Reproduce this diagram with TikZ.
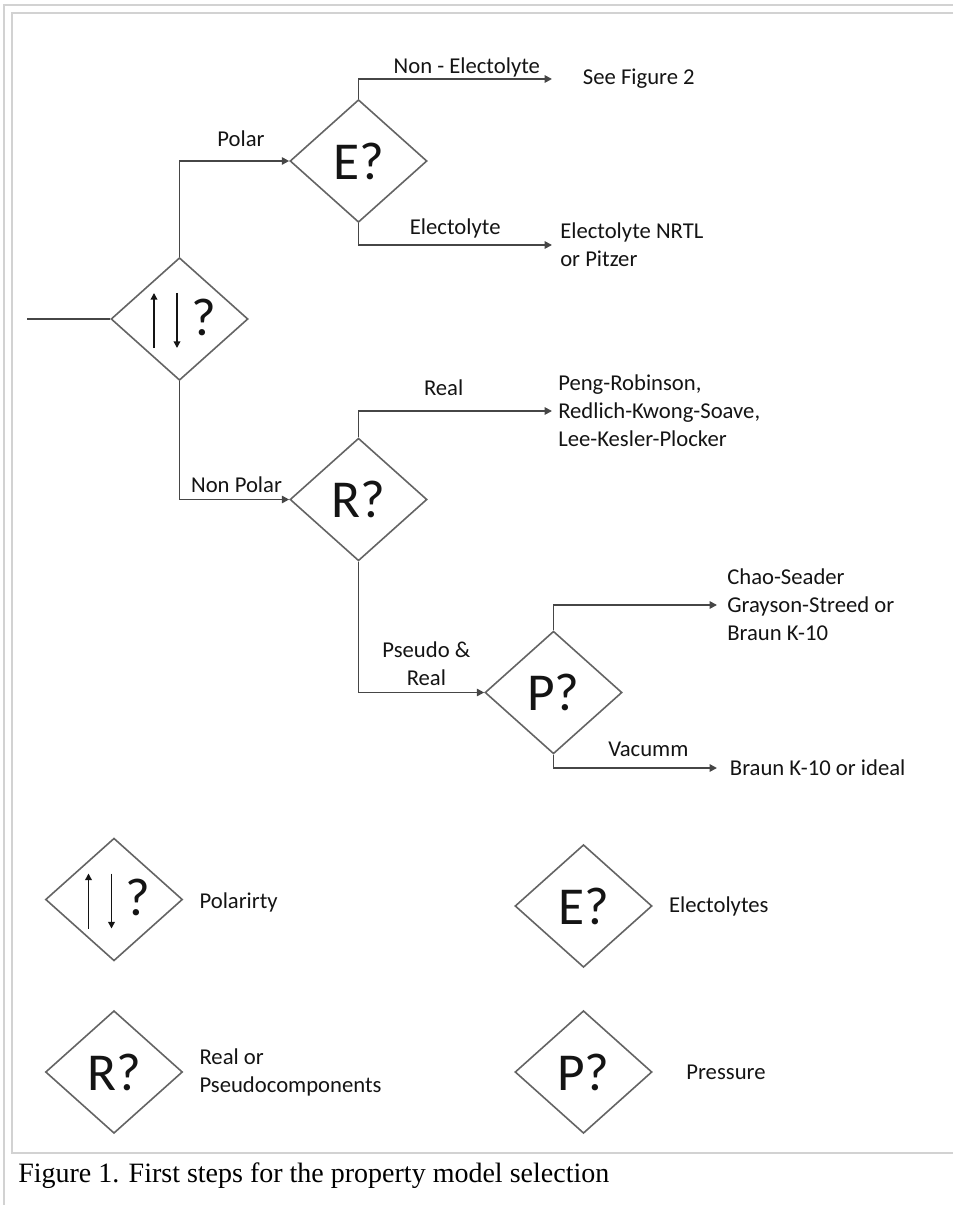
\documentclass[tikz,border=0pt]{standalone}
\usepackage{fontspec}
\setmainfont{Carlito}
\newfontfamily\captionfont{Liberation Serif}
\usepackage{tikz}
\usetikzlibrary{arrows.meta, positioning, calc, shapes.geometric}
\definecolor{linegray}{RGB}{70, 70, 70}
\definecolor{boxgray}{RGB}{100, 100, 100}
\definecolor{framegray}{RGB}{210, 210, 210}
\definecolor{inkblack}{RGB}{20, 20, 20}

\tikzset{
  decision/.style={diamond, draw=boxgray, line width=1.2pt, inner sep=0pt,
    minimum width=102.75pt, minimum height=92pt, text=inkblack,
    font=\fontsize{40}{44}\selectfont},
  flow/.style={draw=linegray, line width=1.3pt,
    -{Triangle[length=5.5pt, width=5.5pt]}},
  branch/.style={font=\fontsize{17}{21}\selectfont, text=inkblack, inner sep=0pt},
  result/.style={font=\fontsize{17}{21}\selectfont, text=inkblack, align=left,
    anchor=west, inner ysep=0pt},
  legtext/.style={font=\fontsize{17}{21}\selectfont, text=inkblack, align=left,
    inner sep=0pt},
  polarrow/.style={draw=inkblack, line width=1.1pt,
    -{Triangle[length=5pt, width=5pt]}},
}

\begin{document}
\begin{tikzpicture}[x=0.75pt, y=-0.75pt]
  \useasboundingbox (0,0) rectangle (953,1205);

  % ── Frame ─────────────────────────────────────────────────────────────────
  \draw[framegray, line width=1.5pt] (4,1205) -- (4,5) -- (953,5);
  \draw[framegray, line width=1.5pt] (953,13) -- (12,13) -- (12,1153) -- (953,1153);

  % ── Decisions ─────────────────────────────────────────────────────────────
  \node[decision] (pol)  at (179.5,319)   {};
  \node[decision] (elec) at (358.5,161)   {E?};
  \node[decision] (real) at (358.5,499.5) {R?};
  \node[decision] (pres) at (553.5,692.5) {P?};

  % ── Results ───────────────────────────────────────────────────────────────
  \node[result, inner xsep=23pt]  (fig2)  at (552,79)  {See Figure 2};
  \node[result, inner xsep=6pt]   (nrtl)  at (552,245) {Electolyte NRTL\\or Pitzer};
  \node[result, inner xsep=4.5pt] (eos)   at (552,411) {Peng-Robinson,\\Redlich-Kwong-Soave,\\Lee-Kesler-Plocker};
  \node[result, inner xsep=7.5pt] (chao)  at (717,605) {Chao-Seader\\Grayson-Streed or\\Braun K-10};
  \node[result, inner xsep=9.5pt] (braun) at (717,768) {Braun K-10 or ideal};

  % ── Connectors ────────────────────────────────────────────────────────────
  \coordinate (entry) at (27,319);
  \draw[linegray, line width=1.3pt] (entry) -- (pol.west);
  \draw[flow] (pol.north) |- node[branch, pos=0.78, above=10pt] (lpolar) {Polar} (elec.west);
  \draw[flow] (pol.south) |- node[branch, pos=0.76, above=4.5pt] (lnonpol) {Non Polar} (real.west);
  \draw[flow] (elec.north) |- node[branch, pos=0.78, above=1pt] (lnonel) {Non - Electolyte} (fig2.west);
  \draw[flow] (elec.south) |- node[branch, pos=0.75, above=4.8pt] (lel) {Electolyte} (nrtl.west);
  \draw[flow] (real.north) |- node[branch, pos=0.72, above=10.5pt] (lreal) {Real} (eos.west);
  \draw[flow] (real.south) |- node[branch, pos=0.77, above=4.5pt, align=center] (lpseudo) {Pseudo \&\\Real} (pres.west);
  \draw[flow] (pres.north) |- (chao.west);
  \draw[flow] (pres.south) |- node[branch, pos=0.79, above=8pt] (lvac) {Vacumm} (braun.west);

  % ── Legend ────────────────────────────────────────────────────────────────
  \node[decision] (legpol)  at (114,899.5)  {};
  \node[decision] (legelec) at (583.5,906)  {E?};
  \node[decision] (legreal) at (114,1072)   {R?};
  \node[decision] (legpres) at (583.5,1072) {P?};
  \node[legtext, right=12pt of legpol, yshift=-2pt] (npol)  {Polarirty};
  \node[legtext, right=12pt of legelec]             (nelec) {Electolytes};
  \node[legtext, right=12pt of legreal]             (nreal) {Real or\\Pseudocomponents};
  \node[legtext, right=25pt of legpres]             (npres) {Pressure};

  % ── Polarity symbol ───────────────────────────────────────────────────────
  \foreach \d in {pol, legpol} {
    \draw[polarrow] ($(\d)+(-25.5,29)$) -- ($(\d)+(-25.5,-26)$);
    \draw[polarrow] ($(\d)+(-2.5,-26)$) -- ($(\d)+(-2.5,29)$);
    \node[text=inkblack, inner sep=0pt, font=\fontsize{40}{44}\selectfont]
      (\d-q) at ($(\d)+(24,-2)$) {?};
  }

  % ── Caption ───────────────────────────────────────────────────────────────
  \node[anchor=base west, inner sep=0pt, font=\captionfont\fontsize{21}{25}\selectfont]
    (caption) at (18,1182) {Figure 1. First steps for the property model selection};
\end{tikzpicture}
\end{document}
